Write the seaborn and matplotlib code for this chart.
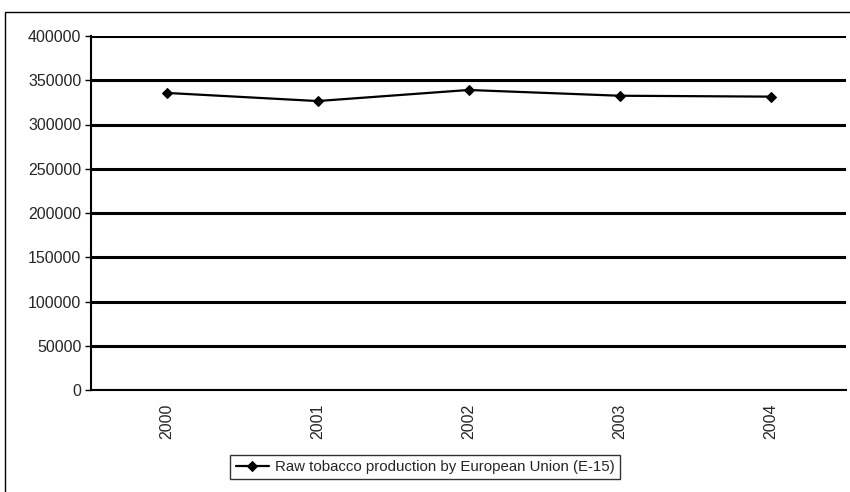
import numpy as np
import pandas as pd
import matplotlib
matplotlib.use("Agg")
import matplotlib.pyplot as plt
import seaborn as sns
from matplotlib.patches import Rectangle

# Data
years = ["2000", "2001", "2002", "2003", "2004"]
production = [335700, 326500, 339000, 332500, 331500]
series_label = "Raw tobacco production by European Union (E-15)"
y_ticks = [0, 50000, 100000, 150000, 200000, 250000, 300000, 350000, 400000]

df = pd.DataFrame({"year": years, "production": production})

sns.set_theme(style="white")
plt.rcParams["font.family"] = ["Liberation Sans", "DejaVu Sans"]

fig = plt.figure(figsize=(8.5, 4.92), dpi=100)
ax = fig.add_axes([91 / 850, 1 - 390 / 492, (846 - 91) / 850, (390 - 36) / 492])

# outer chart frame
fig.patches.append(Rectangle((5 / 850, -0.05), 1.1, 1 - 12 / 492 + 0.05,
                             transform=fig.transFigure, fill=False,
                             edgecolor="black", lw=1.0, zorder=0))

sns.lineplot(data=df, x="year", y="production", ax=ax, color="black",
             lw=1.6, marker="D", markersize=5, markeredgecolor="black",
             label=series_label, zorder=5)

ax.set_xlim(-0.5, 4.5)
ax.set_ylim(0, 400000)
ax.set_yticks(y_ticks)
ax.set_yticklabels([str(v) for v in y_ticks], fontsize=11.5)
ax.set_xticks(range(len(years)))
ax.set_xticklabels(years, rotation=90, fontsize=11.5)
ax.set_xticks(np.arange(-0.5, 5, 1.0), minor=True)
ax.tick_params(axis="x", which="major", length=0, pad=10)
ax.tick_params(axis="x", which="minor", length=4, width=1, color="black", direction="out")
ax.tick_params(axis="y", length=4, width=1, color="black", direction="out", pad=3, left=True)
ax.set_xlabel("")
ax.set_ylabel("")

ax.yaxis.grid(True, color="black", lw=2.2)
ax.xaxis.grid(False)
for side in ["top", "right"]:
    ax.spines[side].set_visible(False)
for side in ["left", "bottom"]:
    ax.spines[side].set_color("black")
    ax.spines[side].set_linewidth(1.5)

leg = ax.legend(loc="center", bbox_to_anchor=(425 / 850, 1 - 467 / 492),
                bbox_transform=fig.transFigure, frameon=True, fancybox=False,
                fontsize=10.8, handlelength=2.2, borderpad=0.35, handletextpad=0.4)
leg.get_frame().set_edgecolor("black")
leg.get_frame().set_linewidth(1.0)

fig.savefig("out.png", dpi=100)
